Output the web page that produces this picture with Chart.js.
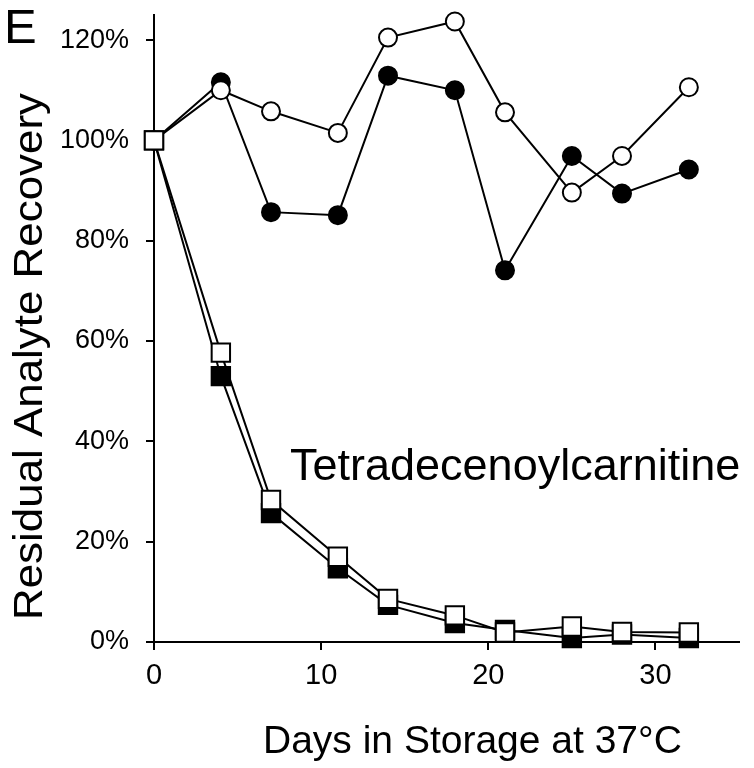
<!DOCTYPE html>
<html>
<head>
<meta charset="utf-8">
<script src="https://cdn.jsdelivr.net/npm/chart.js@4.4.1/dist/chart.umd.min.js"></script>
<style>
  html, body { margin: 0; padding: 0; background: #ffffff; }
  #wrap { width: 754px; height: 768px; }
</style>
</head>
<body>
<div id="wrap"><canvas id="c" width="754" height="768"></canvas></div>
<script>
// ---- Data ----
const days = [0, 4, 7, 11, 14, 18, 21, 25, 28, 32];
const filledCircle = [100, 111.6, 85.7, 85.1, 112.9, 110.0, 74.1, 96.9, 89.4, 94.2];
const openCircle   = [100, 110.0, 105.8, 101.5, 120.5, 123.7, 105.6, 89.6, 96.9, 110.6];
const filledSquare = [100, 53.0, 25.7, 14.7, 7.4, 3.8, 2.4, 0.8, 1.5, 0.8];
const openSquare   = [100, 57.7, 28.3, 17.0, 8.6, 5.3, 1.9, 3.1, 2.0, 1.9];
const yTicks = [0, 20, 40, 60, 80, 100, 120];
const xTicks = [0, 10, 20, 30];
const panelLabel = 'E';
const analyteName = 'Tetradecenoylcarnitine';
const xTitle = 'Days in Storage at 37°C';
const yTitle = 'Residual Analyte Recovery';

const FONT = "'Liberation Sans', Arial, Helvetica, sans-serif";

function pts(vals) { return days.map((d, i) => ({ x: d, y: vals[i] })); }

function ds(label, vals, style, fill, radius, order) {
  return {
    label: label,
    data: pts(vals),
    borderColor: '#000',
    borderWidth: 2,
    backgroundColor: fill,
    pointStyle: style,
    pointRadius: radius,
    pointHoverRadius: radius,
    pointBorderWidth: 2,
    pointBorderColor: '#000',
    pointBackgroundColor: fill,
    tension: 0,
    fill: false,
    clip: false,
    order: order
  };
}

const textPlugin = {
  id: 'texts',
  afterDraw(chart) {
    const ctx = chart.ctx;
    ctx.save();
    ctx.fillStyle = '#000';
    ctx.textBaseline = 'alphabetic';
    ctx.textAlign = 'left';
    // panel label
    ctx.font = '49px ' + FONT;
    ctx.fillText(panelLabel, 4, 43);
    // annotation
    ctx.font = '45px ' + FONT;
    ctx.fillText(analyteName, 290, 480);
    // x title
    ctx.font = '39px ' + FONT;
    ctx.fillText(xTitle, 263, 753);
    // y title (rotated)
    ctx.font = '40px ' + FONT;
    const w = ctx.measureText(yTitle).width;
    const targetLen = 527;
    ctx.translate(42, 620);
    ctx.rotate(-Math.PI / 2);
    ctx.scale(targetLen / w, 1);
    ctx.fillText(yTitle, 0, 0);
    ctx.restore();
  }
};

new Chart(document.getElementById('c'), {
  type: 'line',
  data: {
    datasets: [
      ds('Open squares', openSquare, 'rect', '#ffffff', 13, 0),
      ds('Filled squares', filledSquare, 'rect', '#000000', 13, 1),
      ds('Open circles', openCircle, 'circle', '#ffffff', 9, 2),
      ds('Filled circles', filledCircle, 'circle', '#000000', 9, 3)
    ]
  },
  options: {
    responsive: false,
    animation: false,
    events: [],
    layout: { padding: { top: 12, right: 7, bottom: 0, left: 0 } },
    plugins: { legend: { display: false }, tooltip: { enabled: false }, title: { display: false } },
    scales: {
      x: {
        type: 'linear',
        min: 0,
        max: 35,
        afterBuildTicks(scale) { scale.ticks = xTicks.map(v => ({ value: v })); },
        afterFit(scale) { scale.height = 126; scale.paddingLeft = 0; scale.paddingRight = 0; },
        ticks: {
          color: '#000',
          font: { family: FONT, size: 29 },
          padding: 9,
          maxRotation: 0,
          autoSkip: false,
          callback: v => String(v)
        },
        grid: { display: true, drawOnChartArea: false, drawTicks: true, tickLength: 8, color: '#000', lineWidth: 2 },
        border: { display: true, color: '#000', width: 2 },
        title: { display: false }
      },
      y: {
        type: 'linear',
        min: 0,
        max: 125,
        afterBuildTicks(scale) { scale.ticks = yTicks.map(v => ({ value: v })); },
        afterFit(scale) { scale.width = 154; scale.paddingTop = 0; scale.paddingBottom = 0; },
        ticks: {
          color: '#000',
          font: { family: FONT, size: 27 },
          padding: 17,
          autoSkip: false,
          callback: v => v + '%'
        },
        grid: { display: true, drawOnChartArea: false, drawTicks: true, tickLength: 8, color: '#000', lineWidth: 2 },
        border: { display: true, color: '#000', width: 2 },
        title: { display: false }
      }
    }
  },
  plugins: [textPlugin]
});
</script>
</body>
</html>
